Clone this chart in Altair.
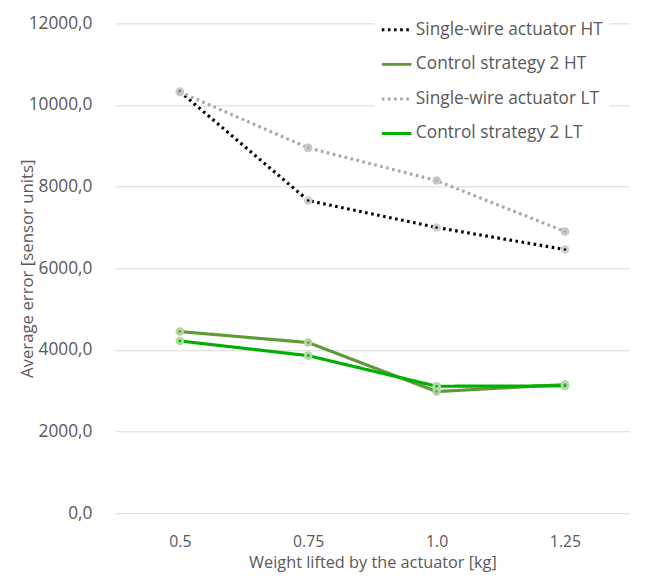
import altair as alt
import pandas as pd

categories = ["0.5", "0.75", "1.0", "1.25"]
series_names = ["Single-wire actuator HT", "Control strategy 2 HT",
                "Single-wire actuator LT", "Control strategy 2 LT"]
single_wire_ht = [10330, 7660, 7000, 6460]
control_ht = [4450, 4180, 2980, 3150]
single_wire_lt = [10320, 8950, 8150, 6900]
control_lt = [4220, 3860, 3110, 3120]

line_colors = ["#000000", "#5E9A36", "#A6A6A6", "#00B000"]
marker_fill = ["#D0D0D0", "#B5D3A0", "#C8C8C8", "#A8DDA0"]
dashes = [[2.6, 3.6], [1, 0], [2.6, 3.6], [1, 0]]

rows = []
for name, vals in zip(series_names, [single_wire_ht, control_ht, single_wire_lt, control_lt]):
    for c, v in zip(categories, vals):
        rows.append({"Weight": c, "Error": v, "Series": name})
df = pd.DataFrame(rows)

FONT = "Open Sans"
TXT = "#595959"

legend_opts = dict(title=None, orient="none", legendX=262, legendY=-16,
                   labelFontSize=17.5, labelFont=FONT, labelColor=TXT, labelLimit=400,
                   symbolType="stroke", symbolSize=900, symbolStrokeWidth=3,
                   rowPadding=10, fillColor="white", padding=6, labelOffset=3)

x_enc = alt.X("Weight:N", sort=categories, scale=alt.Scale(type="point", padding=0.5),
              axis=alt.Axis(title="Weight lifted by the actuator [kg]", labelAngle=0,
                            labelFontSize=16, titleFontSize=16.5, labelColor=TXT, titleColor=TXT,
                            labelFont=FONT, titleFont=FONT, ticks=False, domain=False,
                            labelPadding=21, titlePadding=5, titleFontWeight="normal"))
y_enc = alt.Y("Error:Q", scale=alt.Scale(domain=[0, 12000]),
              axis=alt.Axis(title="Average error [sensor units]", values=list(range(0, 12001, 2000)),
                            labelExpr="replace(format(datum.value, '.1f'), '.', ',')",
                            labelFontSize=17.5, titleFontSize=17, labelColor=TXT, titleColor=TXT,
                            labelFont=FONT, titleFont=FONT, ticks=False, domain=False,
                            labelPadding=24, titleX=-80, titleFontWeight="normal",
                            gridColor="#D9D9D9", gridWidth=1))

lines = alt.Chart(df).mark_line(strokeWidth=3.2, strokeCap="butt", strokeJoin="round").encode(
    x=x_enc, y=y_enc,
    color=alt.Color("Series:N", sort=series_names,
                    scale=alt.Scale(domain=series_names, range=line_colors),
                    legend=alt.Legend(**legend_opts)),
    strokeDash=alt.StrokeDash("Series:N", sort=series_names,
                              scale=alt.Scale(domain=series_names, range=dashes),
                              legend=alt.Legend(**legend_opts)),
    order=alt.Order("Weight:N"),
)

markers = alt.Chart(df).mark_point(filled=True, size=75, opacity=1).encode(
    x=alt.X("Weight:N", sort=categories), y="Error:Q",
    fill=alt.Fill("Series:N", scale=alt.Scale(domain=series_names, range=marker_fill), legend=None),
)
centers = alt.Chart(df).mark_point(filled=True, size=7, opacity=1).encode(
    x=alt.X("Weight:N", sort=categories), y="Error:Q",
    color=alt.Color("Series:N", sort=series_names,
                    scale=alt.Scale(domain=series_names, range=line_colors), legend=None),
)

chart = alt.layer(lines, markers, centers).properties(
    width=520, height=496,
    background="white",
    autosize=alt.AutoSizeParams(type="none"),
    padding={"left": 109, "top": 12, "right": 15, "bottom": 59},
).configure_view(stroke=None)

chart.save("out.html", embed_options={"renderer": "svg", "actions": False})
